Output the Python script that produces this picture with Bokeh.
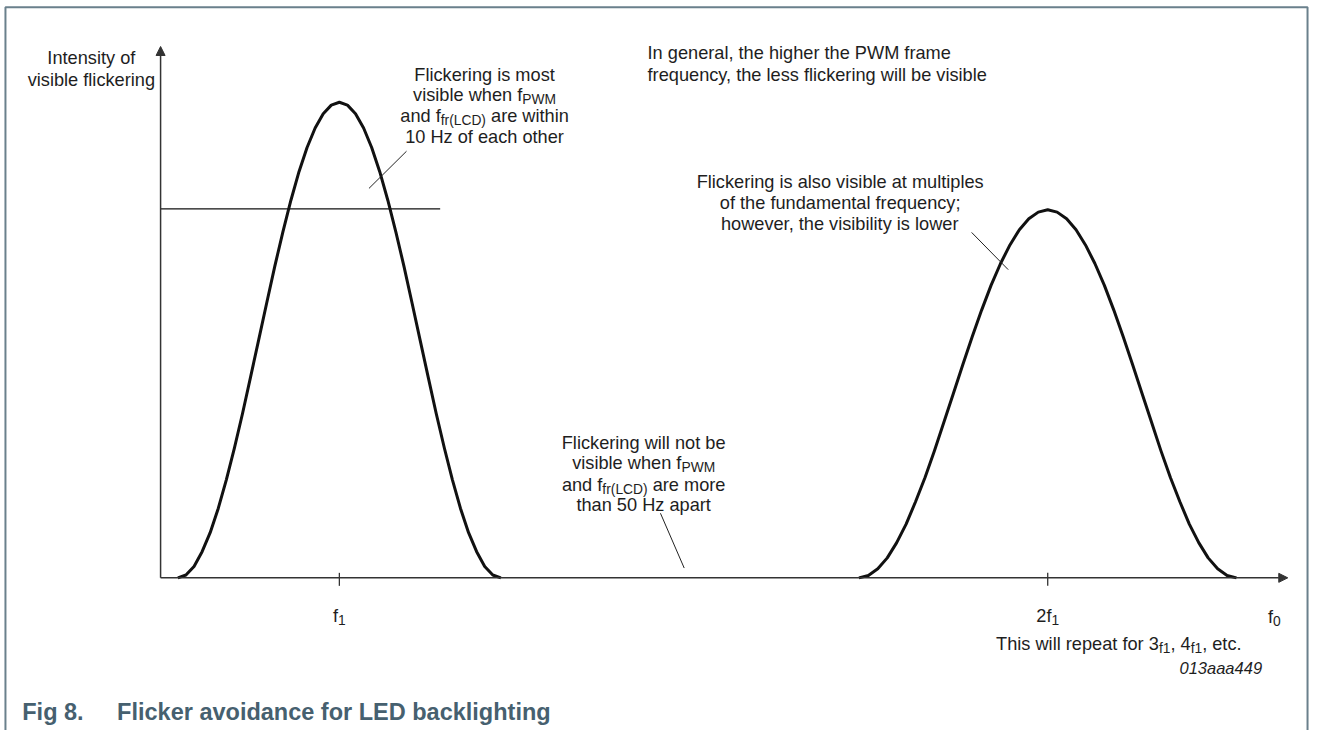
from bokeh.plotting import figure
from bokeh.models import ColumnDataSource, Range1d, Arrow, NormalHead
from bokeh.core.properties import value
from bokeh.embed import file_html
from bokeh.resources import INLINE

# ---------------- data ----------------
# frequency in units of f1, intensity relative to the fundamental peak
fund_freq = [0.772, 0.7834, 0.7948, 0.8062, 0.8176, 0.829, 0.8404, 0.8518, 0.8632, 0.8746,
             0.886, 0.8974, 0.9088, 0.9202, 0.9316, 0.943, 0.9544, 0.9658, 0.9772, 0.9886,
             1.0, 1.0114, 1.0228, 1.0342, 1.0456, 1.057, 1.0684, 1.0798, 1.0912, 1.1026,
             1.114, 1.1254, 1.1368, 1.1482, 1.1596, 1.171, 1.1824, 1.1938, 1.2052, 1.2166, 1.228]
fund_int = [0.0, 0.006, 0.024, 0.055, 0.095, 0.146, 0.206, 0.273, 0.345, 0.422,
            0.5, 0.578, 0.655, 0.727, 0.794, 0.854, 0.905, 0.946, 0.976, 0.994,
            1.0, 0.994, 0.976, 0.946, 0.905, 0.854, 0.794, 0.727, 0.655, 0.578,
            0.5, 0.422, 0.345, 0.273, 0.206, 0.146, 0.095, 0.055, 0.024, 0.006, 0.0]
harm_freq = [1.7335, 1.7468, 1.7601, 1.7735, 1.7868, 1.8001, 1.8134, 1.8268, 1.8401, 1.8534,
             1.8667, 1.8801, 1.8934, 1.9067, 1.92, 1.9334, 1.9467, 1.96, 1.9733, 1.9867,
             2.0, 2.0133, 2.0267, 2.04, 2.0533, 2.0666, 2.08, 2.0933, 2.1066, 2.1199,
             2.1333, 2.1466, 2.1599, 2.1732, 2.1866, 2.1999, 2.2132, 2.2265, 2.2399, 2.2532, 2.2665]
harm_int = [0.0, 0.005, 0.019, 0.042, 0.074, 0.113, 0.16, 0.211, 0.267, 0.327,
            0.387, 0.448, 0.507, 0.563, 0.615, 0.661, 0.7, 0.732, 0.755, 0.769,
            0.774, 0.769, 0.755, 0.732, 0.7, 0.661, 0.615, 0.563, 0.507, 0.448,
            0.387, 0.327, 0.267, 0.211, 0.16, 0.113, 0.074, 0.042, 0.019, 0.005, 0.0]
tick_freqs = [1.0, 2.0]
tick_labels = [[("f", 0), ("1", 1)], [("2f", 0), ("1", 1)]]
threshold_level = 0.776
threshold_extent = [0.7476, 1.1423]

# ---------------- layout ----------------
W, H = 1311, 730
X0, X1 = 0.5216, 2.3724
Y0, Y1 = -0.3210, 1.2140
PXX = (X1 - X0) / W
PXY = (Y1 - Y0) / H

FONT = "Liberation Sans"
S_MAIN = 18.2
S_SUB = 13.8
SUB_DROP = 4.5
TXT = "#1e1e1e"
AX = "#333333"

p = figure(width=W, height=H, x_range=Range1d(X0, X1), y_range=Range1d(Y0, Y1),
           x_axis_location=None, y_axis_location=None, min_border=0,
           toolbar_location=None, output_backend="svg")
p.grid.visible = False
p.outline_line_color = None
p.background_fill_color = "white"
p.border_fill_color = "white"

# frame (left, top, right)
bx0, bx1 = 0.5286, 2.3668
by1 = 1.1996
p.line([bx0, bx0, bx1, bx1], [Y0, by1, by1, Y0], line_color="#6a808c", line_width=2)

ox = threshold_extent[0]
x_tip = 2.3389
y_tip = 1.1173

# axes with arrows
p.add_layout(Arrow(end=NormalHead(size=9, fill_color=AX, line_color=AX, line_width=1),
                   x_start=ox, y_start=0, x_end=x_tip, y_end=0,
                   line_color=AX, line_width=1.5))
p.add_layout(Arrow(end=NormalHead(size=9, fill_color=AX, line_color=AX, line_width=1),
                   x_start=ox, y_start=0, x_end=ox, y_end=y_tip,
                   line_color=AX, line_width=1.5))

# ticks
p.segment(x0=tick_freqs, y0=[-8 * PXY] * 2, x1=tick_freqs, y1=[5 * PXY] * 2,
          line_color=AX, line_width=1.3)

# threshold line
p.line(threshold_extent, [threshold_level, threshold_level], line_color="#111111", line_width=1.2)

# curves
p.line(fund_freq, fund_int, line_color="#111111", line_width=3, line_join="round")
p.line(harm_freq, harm_int, line_color="#111111", line_width=3, line_join="round")

# leader lines
leaders = [((1.0948, 0.8971), (1.0418, 0.8189)),
           ((1.4533, 0.1358), (1.4868, 0.0206)),
           ((1.8926, 0.7263), (1.9442, 0.6481))]
p.segment(x0=[a[0][0] for a in leaders], y0=[a[0][1] for a in leaders],
          x1=[a[1][0] for a in leaders], y1=[a[1][1] for a in leaders],
          line_color="#222222", line_width=1)

# ---------------- text ----------------
ARIAL = {' ': 278, '(': 333, ')': 333, ',': 278, '.': 278, ';': 278,
         'A': 667, 'B': 667, 'C': 722, 'D': 722, 'E': 667, 'F': 611, 'G': 778, 'H': 722,
         'I': 278, 'L': 556, 'M': 833, 'P': 667, 'T': 611, 'W': 944, 'Z': 611,
         'a': 556, 'b': 556, 'c': 500, 'd': 556, 'e': 556, 'f': 278, 'g': 556, 'h': 556,
         'i': 222, 'j': 222, 'k': 500, 'l': 222, 'm': 833, 'n': 556, 'o': 556, 'p': 556,
         'q': 556, 'r': 333, 's': 500, 't': 278, 'u': 556, 'v': 500, 'w': 722, 'x': 500,
         'y': 500, 'z': 500}


def tw(s, size):
    return sum(ARIAL.get(c, 556) for c in s) * size / 1000.0


rows = dict(x=[], y=[], text=[], dx=[], dy=[], size=[])


def add_line(segs, x, y, align="center"):
    widths = [tw(t, S_SUB if sub else S_MAIN) for t, sub in segs]
    total = sum(widths)
    if align == "center":
        start = -total / 2
    elif align == "right":
        start = -total
    else:
        start = 0
    off = start
    for (t, sub), w in zip(segs, widths):
        size = S_SUB if sub else S_MAIN
        lead = len(t) - len(t.lstrip(" "))
        rows["x"].append(x)
        rows["y"].append(y)
        rows["text"].append(t.strip(" "))
        rows["dx"].append(off + tw(" " * lead, size))
        rows["dy"].append(SUB_DROP if sub else 0)
        rows["size"].append("%.1fpx" % size)
        off += w


# y axis title
add_line([("Intensity of", 0)], 0.6499, 1.0926)
add_line([("visible flickering", 0)], 0.6499, 1.0473)
# note near fundamental
add_line([("Flickering is most", 0)], 1.205, 1.0576)
add_line([("visible when f", 0), ("PWM", 1)], 1.205, 1.0144)
add_line([("and f", 0), ("fr(LCD)", 1), (" are within", 0)], 1.205, 0.9712)
add_line([("10 Hz of each other", 0)], 1.205, 0.9280)
# general note
add_line([("In general, the higher the PWM frame", 0)], 1.4351, 1.1029, "left")
add_line([("frequency, the less flickering will be visible", 0)], 1.4351, 1.0576, "left")
# harmonic note
add_line([("Flickering is also visible at multiples", 0)], 1.7071, 0.8333)
add_line([("of the fundamental frequency;", 0)], 1.7071, 0.7881)
add_line([("however, the visibility is lower", 0)], 1.7071, 0.7449)
# gap note
add_line([("Flickering will not be", 0)], 1.4296, 0.2840)
add_line([("visible when f", 0), ("PWM", 1)], 1.4296, 0.2407)
add_line([("and f", 0), ("fr(LCD)", 1), (" are more", 0)], 1.4296, 0.1955)
add_line([("than 50 Hz apart", 0)], 1.4296, 0.1523)
# tick labels
for f, lab in zip(tick_freqs, tick_labels):
    add_line(lab, f, -0.0802)
add_line([("f", 0), ("0", 1)], 2.311, -0.0823, "left")
add_line([("This will repeat for 3", 0), ("f1", 1), (", 4", 0), ("f1", 1), (", etc.", 0)],
         2.1004, -0.1399)

src = ColumnDataSource(rows)
p.text(x="x", y="y", text="text", x_offset="dx", y_offset="dy", text_font_size="size",
       source=src, text_font=value(FONT), text_color=TXT, text_align="left",
       text_baseline="alphabetic")

# figure code
p.text(x=[2.3026], y=[-0.1893], text=["013aaa449"], text_font=value(FONT),
       text_font_size="16.5px", text_font_style="italic", text_color=TXT,
       text_align="right", text_baseline="alphabetic")

# caption
CAP = "#46606f"
p.text(x=[0.5523, 0.6862], y=[-0.2819, -0.2819],
       text=["Fig 8.", "Flicker avoidance for LED backlighting"],
       text_font=value(FONT), text_font_size="23.5px", text_font_style="bold",
       text_color=CAP, text_align="left", text_baseline="alphabetic")

open("out.html", "w").write(file_html(p, INLINE))
